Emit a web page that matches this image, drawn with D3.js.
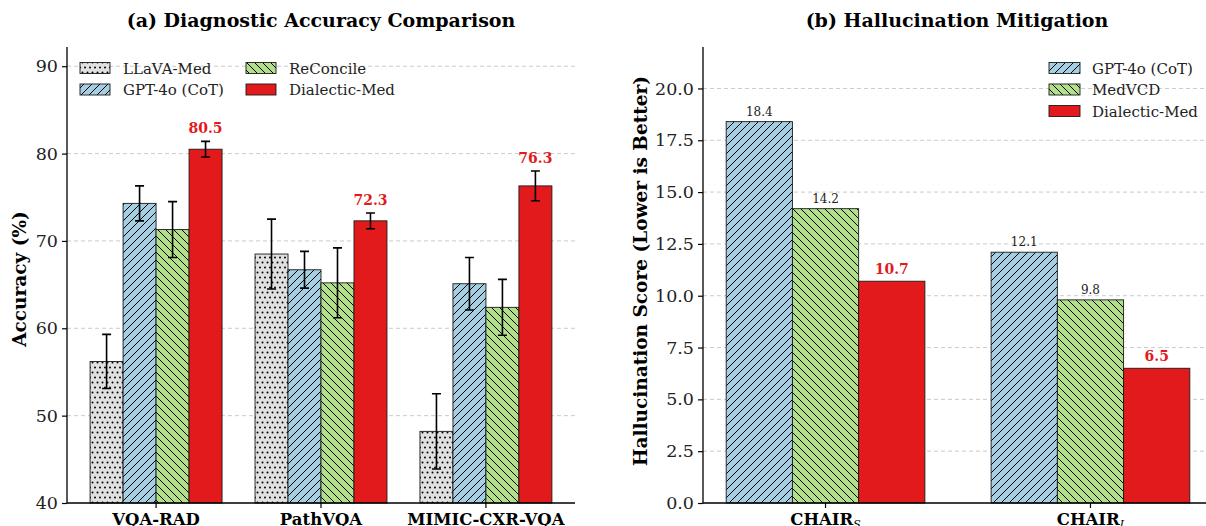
<!DOCTYPE html>
<html><head><meta charset="utf-8">
<script src="https://cdn.jsdelivr.net/npm/d3@7"></script>
<style>body{margin:0;background:#fff}svg{display:block}text{font-family:"DejaVu Serif",serif}</style>
</head><body><svg id="c" width="1206" height="526"></svg>
<script>
// ---- data ----
const datasetsA = ["VQA-RAD", "PathVQA", "MIMIC-CXR-VQA"];
const modelsA = ["LLaVA-Med", "GPT-4o (CoT)", "ReConcile", "Dialectic-Med"];
const accLLaVA = [56.2, 68.5, 48.2];
const accGPT = [74.3, 66.7, 65.1];
const accReConcile = [71.3, 65.2, 62.4];
const accDialectic = [80.5, 72.3, 76.3];
const errLLaVA = [3.1, 4.0, 4.3];
const errGPT = [2.0, 2.1, 3.0];
const errReConcile = [3.2, 4.0, 3.2];
const errDialectic = [0.9, 0.9, 1.7];
const accTicks = [40, 50, 60, 70, 80, 90];

const metricsB = ["S", "I"]; // CHAIR subscripts
const modelsB = ["GPT-4o (CoT)", "MedVCD", "Dialectic-Med"];
const halGPT = [18.4, 12.1];
const halMedVCD = [14.2, 9.8];
const halDialectic = [10.7, 6.5];
const halTicks = [0, 2.5, 5, 7.5, 10, 12.5, 15, 17.5, 20];

// ---- styles ----
const fills = {"LLaVA-Med":"#e0e0e0","GPT-4o (CoT)":"#a6cee3","ReConcile":"#b2df8a","MedVCD":"#b2df8a","Dialectic-Med":"#e31a1c"};
const pats = {"LLaVA-Med":"dots","GPT-4o (CoT)":"fwd","ReConcile":"back","MedVCD":"back","Dialectic-Med":null};

const svg = d3.select("#c");
const defs = svg.append("defs");
function mkPattern(id, bg, type){
  const p = defs.append("pattern").attr("id", id).attr("patternUnits","userSpaceOnUse");
  if(type==="dots"){
    p.attr("width",10).attr("height",10);
    p.append("rect").attr("width",10).attr("height",10).attr("fill",bg);
    [[2.5,2.5],[7.5,2.5],[0,7.5],[5,7.5],[10,7.5]].forEach(([x,y])=>p.append("circle").attr("cx",x).attr("cy",y).attr("r",1).attr("fill","#000"));
  } else if(type==="fwd"){
    p.attr("width",8).attr("height",8);
    p.append("rect").attr("width",8).attr("height",8).attr("fill",bg);
    p.append("path").attr("d","M-2,2 L2,-2 M0,8 L8,0 M6,10 L10,6").attr("stroke","#000").attr("stroke-width",1);
  } else {
    p.attr("width",8).attr("height",8);
    p.append("rect").attr("width",8).attr("height",8).attr("fill",bg);
    p.append("path").attr("d","M-2,6 L2,10 M0,0 L8,8 M6,-2 L10,2").attr("stroke","#000").attr("stroke-width",1);
  }
}
const fillFor = {};
Object.keys(fills).forEach((k,i)=>{
  if(pats[k]){ const id="pat"+i; mkPattern(id, fills[k], pats[k]); fillFor[k]="url(#"+id+")"; }
  else fillFor[k]=fills[k];
});

function axesFrame(g, x0, x1, y, ticks, fmt){
  g.append("g").selectAll("line").data(ticks.filter(t=>t!==y.domain()[0])).join("line")
    .attr("x1",x0).attr("x2",x1).attr("y1",d=>y(d)).attr("y2",d=>y(d))
    .attr("stroke","#c4c4c4").attr("stroke-dasharray","4,3").attr("stroke-width",0.9);
  const ax = g.append("g").attr("transform",`translate(${x0},0)`)
    .call(d3.axisLeft(y).tickValues(ticks).tickFormat(fmt).tickSize(5).tickPadding(4));
  ax.select(".domain").remove();
  ax.selectAll("text").attr("font-size",17.5).attr("fill","#222");
  ax.selectAll(".tick line").attr("stroke","#000").attr("stroke-width",1.2);
}

// ================= Panel A =================
const yA = d3.scaleLinear().domain([40, 92.2]).range([503, 47]);
const xA = d3.scaleLinear().domain([-0.54, 2.54]).range([67, 575]);
const bw = 0.2;
const gA = svg.append("g");
axesFrame(gA, 67, 575, yA, accTicks, d3.format("d"));
const seriesA = [
  {name:"LLaVA-Med", v:accLLaVA, e:errLLaVA},
  {name:"GPT-4o (CoT)", v:accGPT, e:errGPT},
  {name:"ReConcile", v:accReConcile, e:errReConcile},
  {name:"Dialectic-Med", v:accDialectic, e:errDialectic}
];
seriesA.forEach((s,si)=>{
  const off = (si-1.5)*bw;
  s.v.forEach((v,i)=>{
    const xl = xA(i+off-bw/2), xr = xA(i+off+bw/2);
    gA.append("rect").attr("x",xl).attr("y",yA(v)).attr("width",xr-xl).attr("height",yA(40)-yA(v))
      .attr("fill",fillFor[s.name]).attr("stroke","#1a1a1a").attr("stroke-width",0.9);
  });
});
seriesA.forEach((s,si)=>{
  const off = (si-1.5)*bw;
  s.v.forEach((v,i)=>{
    const cx = xA(i+off), t=yA(v+s.e[i]), b=yA(v-s.e[i]);
    gA.append("path").attr("d",`M${cx},${t}V${b}M${cx-4.5},${t}H${cx+4.5}M${cx-4.5},${b}H${cx+4.5}`)
      .attr("stroke","#000").attr("stroke-width",1.6).attr("fill","none");
    if(s.name==="Dialectic-Med"){
      gA.append("text").attr("x",cx).attr("y",t-8).attr("text-anchor","middle")
        .attr("font-size",14).attr("font-weight","bold").attr("fill","#e31a1c").text(d3.format(".1f")(v));
    }
  });
});
gA.append("path").attr("d","M67,47V503H575").attr("stroke","#000").attr("stroke-width",1.3).attr("fill","none");
datasetsA.forEach((d,i)=>{
  gA.append("line").attr("x1",xA(i)).attr("x2",xA(i)).attr("y1",503).attr("y2",508).attr("stroke","#000").attr("stroke-width",1.2);
  gA.append("text").attr("x",xA(i)).attr("y",524.5).attr("text-anchor","middle").attr("font-size",16.5).attr("font-weight","bold").text(d);
});
gA.append("text").attr("x",321).attr("y",27).attr("text-anchor","middle").attr("font-size",19).attr("font-weight","bold").text("(a) Diagnostic Accuracy Comparison");
gA.append("text").attr("transform","translate(26,279) rotate(-90)").attr("text-anchor","middle").attr("font-size",18.5).attr("font-weight","bold").text("Accuracy (%)");
modelsA.forEach((m,i)=>{
  const col = Math.floor(i/2), row = i%2;
  const lx = 80 + col*166, ly = 68 + row*21.5;
  gA.append("rect").attr("x",lx).attr("y",ly-5.5).attr("width",30).attr("height",11)
    .attr("fill",fillFor[m]).attr("stroke","#1a1a1a").attr("stroke-width",0.9);
  gA.append("text").attr("x",lx+43).attr("y",ly+5.5).attr("font-size",15).attr("fill","#222").text(m);
});

// ================= Panel B =================
const yB = d3.scaleLinear().domain([0, 22]).range([503, 47]);
const xB = d3.scaleLinear().domain([-0.4625, 1.4625]).range([703, 1213]);
const bwB = 0.25;
const gB = svg.append("g");
axesFrame(gB, 703, 1213, yB, halTicks, d3.format(".1f"));
const seriesB = [
  {name:"GPT-4o (CoT)", v:halGPT},
  {name:"MedVCD", v:halMedVCD},
  {name:"Dialectic-Med", v:halDialectic}
];
seriesB.forEach((s,si)=>{
  const off = (si-1)*bwB;
  s.v.forEach((v,i)=>{
    const xl = xB(i+off-bwB/2), xr = xB(i+off+bwB/2);
    gB.append("rect").attr("x",xl).attr("y",yB(v)).attr("width",xr-xl).attr("height",yB(0)-yB(v))
      .attr("fill",fillFor[s.name]).attr("stroke","#1a1a1a").attr("stroke-width",0.9);
    const best = s.name==="Dialectic-Med";
    gB.append("text").attr("x",xB(i+off)).attr("y",yB(v)-(best?7:6)).attr("text-anchor","middle")
      .attr("font-size",best?14:12).attr("font-weight",best?"bold":"normal")
      .attr("fill",best?"#e31a1c":"#222").text(d3.format(".1f")(v));
  });
});
gB.append("path").attr("d","M703,47V503H1213").attr("stroke","#000").attr("stroke-width",1.3).attr("fill","none");
metricsB.forEach((m,i)=>{
  gB.append("line").attr("x1",xB(i)).attr("x2",xB(i)).attr("y1",503).attr("y2",508).attr("stroke","#000").attr("stroke-width",1.2);
  const t = gB.append("text").attr("x",xB(i)).attr("y",524.5).attr("text-anchor","middle").attr("font-size",16.5).attr("font-weight","bold");
  t.append("tspan").text("CHAIR");
  t.append("tspan").attr("font-size",11).attr("font-style","italic").attr("font-weight","normal").attr("dy",3).text(m);
});
gB.append("text").attr("x",957).attr("y",27).attr("text-anchor","middle").attr("font-size",19).attr("font-weight","bold").text("(b) Hallucination Mitigation");
gB.append("text").attr("transform","translate(647,271) rotate(-90)").attr("text-anchor","middle").attr("font-size",18.5).attr("font-weight","bold").text("Hallucination Score (Lower is Better)");
modelsB.forEach((m,i)=>{
  const lx = 1049, ly = 68 + i*21.5;
  gB.append("rect").attr("x",lx).attr("y",ly-5.5).attr("width",31).attr("height",11)
    .attr("fill",fillFor[m]).attr("stroke","#1a1a1a").attr("stroke-width",0.9);
  gB.append("text").attr("x",lx+43).attr("y",ly+5.5).attr("font-size",15).attr("fill","#222").text(m);
});
</script></body></html>
